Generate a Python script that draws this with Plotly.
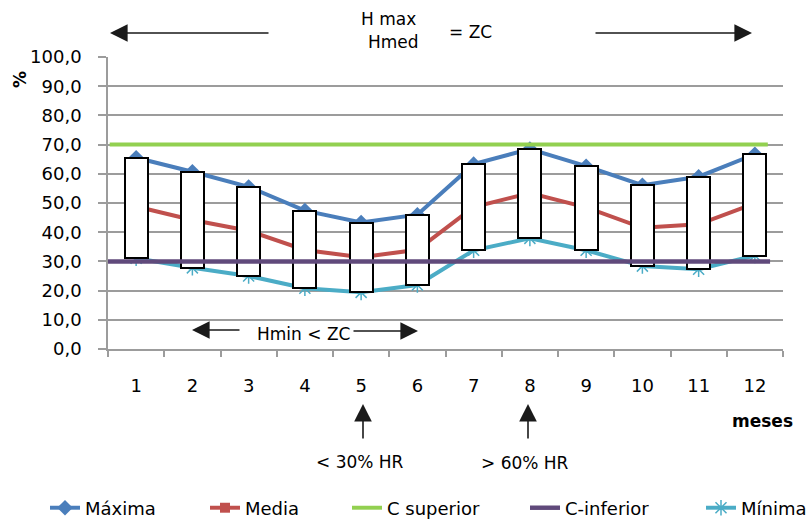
import plotly.graph_objects as go

# ---- data ----
meses = [1, 2, 3, 4, 5, 6, 7, 8, 9, 10, 11, 12]
maxima = [65.5, 60.7, 55.5, 47.4, 43.3, 46.0, 63.3, 68.5, 62.6, 56.1, 59.0, 66.7]
media = [48.8, 44.2, 40.5, 33.9, 31.4, 34.0, 48.6, 53.4, 48.5, 41.5, 42.7, 49.9]
minima = [31.1, 27.8, 25.0, 20.8, 19.4, 21.9, 33.8, 37.9, 33.8, 28.4, 27.3, 32.0]
c_sup_x = [0.53, 12.23]
c_sup = [70.0, 70.0]
c_inf_x = [0.42, 12.27]
c_inf = [30.0, 30.0]
y_ticks = [0, 10, 20, 30, 40, 50, 60, 70, 80, 90, 100]

FONT = "DejaVu Sans"
W, H = 810, 520
L, R, T, B = 108, 27, 57, 171
PW, PH = W - L - R, H - T - B


def px(x):
    return (x - L) / PW


def py(y):
    return (H - B - y) / PH


fig = go.Figure()

# lines beneath the boxes
fig.add_trace(go.Scatter(x=meses, y=maxima, name="Máxima", mode="lines+markers",
                         line=dict(color="#4A7EBB", width=4),
                         marker=dict(symbol="diamond", size=12, color="#4A7EBB"),
                         legend="legend"))
fig.add_trace(go.Scatter(x=meses, y=media, name="Media", mode="lines+markers",
                         line=dict(color="#C0504D", width=4),
                         marker=dict(symbol="square", size=10, color="#C0504D"),
                         legend="legend2"))
fig.add_trace(go.Scatter(x=meses, y=minima, name="Mínima", mode="lines+markers",
                         line=dict(color="#4BACC6", width=4),
                         marker=dict(symbol="asterisk-open", size=13,
                                     line=dict(color="#4BACC6", width=1.5)),
                         legend="legend5"))

# boxes (min..max) on an overlaying axis so they are drawn on top
fig.add_trace(go.Bar(x=meses, y=[a - b for a, b in zip(maxima, minima)], base=minima,
                     width=0.41, yaxis="y2", showlegend=False, hoverinfo="skip",
                     marker=dict(color="white", line=dict(color="black", width=2))))
fig.add_trace(go.Scatter(x=c_sup_x, y=c_sup, name="C superior", mode="lines", yaxis="y2",
                         line=dict(color="#92D050", width=4), legend="legend3"))
fig.add_trace(go.Scatter(x=c_inf_x, y=c_inf, name="C-inferior", mode="lines", yaxis="y2",
                         line=dict(color="#604A7B", width=4.5), legend="legend4"))


def leg(text_left):
    return dict(orientation="h", xref="container", yref="container",
                x=(text_left - 38) / W, y=(H - 508) / H, xanchor="left", yanchor="middle",
                font=dict(family=FONT, size=18), bgcolor="rgba(0,0,0,0)")


grid = "#9c9c9c"
fig.update_layout(
    width=W, height=H,
    margin=dict(l=L, r=R, t=T, b=B),
    paper_bgcolor="white", plot_bgcolor="white",
    separators=",.",
    font=dict(family=FONT, size=18, color="black"),
    showlegend=True,
    legend=leg(83), legend2=leg(243), legend3=leg(385), legend4=leg(563), legend5=leg(739),
    xaxis=dict(range=[0.5, 12.5], tickmode="array", tickvals=meses,
               ticktext=[str(m) for m in meses], ticks="", showgrid=False,
               showline=True, linecolor=grid, linewidth=1.5, zeroline=False,
               ticklabelstandoff=20, tickfont=dict(size=18),
               minor=dict(tickmode="array", tickvals=[m - 0.5 for m in meses] + [12.5],
                          ticks="outside", ticklen=6, tickcolor=grid, tickwidth=1.5,
                          showgrid=False)),
    yaxis=dict(range=[0, 100], tickmode="array", tickvals=y_ticks, tickformat=".1f",
               ticks="outside", ticklen=8, tickcolor=grid, tickwidth=1.5,
               showgrid=True, gridcolor=grid, gridwidth=1.5,
               showline=True, linecolor=grid, linewidth=1.5, zeroline=False,
               ticklabelstandoff=13, tickfont=dict(size=18)),
    yaxis2=dict(range=[0, 100], overlaying="y", visible=False),
    bargap=0,
)

ARROW = "#1a1a1a"


def arrow(hx, hy, tx, ty):
    fig.add_annotation(x=px(hx), y=py(hy), xref="paper", yref="paper",
                       ax=tx - hx, ay=ty - hy, axref="pixel", ayref="pixel",
                       text="", showarrow=True, arrowhead=2, arrowsize=2.2,
                       arrowwidth=1.6, arrowcolor=ARROW, standoff=0, startstandoff=0)


def label(x, y, text, size=17, bold=False, angle=0):
    fig.add_annotation(x=px(x), y=py(y), xref="paper", yref="paper",
                       text=("<b>%s</b>" % text) if bold else text, showarrow=False,
                       xanchor="center", yanchor="middle", textangle=angle,
                       font=dict(family=FONT, size=size, color="black"))


arrow(110, 33, 270, 33)
arrow(752, 33, 594, 33)
label(388, 19, "H max")
label(393, 42, "Hmed")
label(470, 32, "= ZC")

arrow(192, 330, 241, 330)
arrow(418, 331, 352, 331)
label(303, 334, "Hmin &lt; ZC")

arrow(363, 404, 363, 440)
arrow(528, 404, 528, 440)
label(360, 462, "&lt; 30% HR")
label(525, 463, "&gt; 60% HR")

label(762, 421, "meses", size=17, bold=True)
label(20, 80, "%", size=17, bold=True, angle=-90)

fig.write_html("out.html", config={"displayModeBar": False},
               post_script="document.body.style.margin='0';")
